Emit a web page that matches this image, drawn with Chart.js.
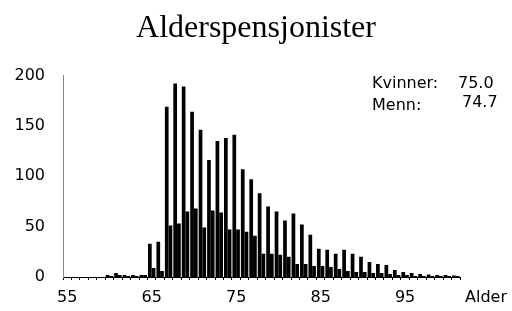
<!DOCTYPE html>
<html>
<head>
<meta charset="utf-8">
<script src="https://cdn.jsdelivr.net/npm/chart.js@4/dist/chart.umd.min.js"></script>
<style>
  html, body { margin: 0; padding: 0; background: #fff; }
  #wrap { width: 512px; height: 311px; }
</style>
</head>
<body>
<div id="wrap"><canvas id="chart"></canvas></div>
<script>
// ages 55 .. 101
const ages = [];
for (let a = 55; a <= 101; a++) ages.push(a);

const tickAges = [55, 65, 75, 85, 95];

// tall bar in each pair
const kvinner = [
    0, 0, 0, 0, 0,            // 55-59
    2, 4, 2, 2, 2,            // 60-64
    33, 35, 169, 192, 189,    // 65-69
    164, 146, 116, 135, 138,  // 70-74
    141, 107, 97, 83, 70,     // 75-79
    65, 56, 63, 52, 42,       // 80-84
    28, 27, 23, 27, 23,       // 85-89
    20, 15, 13, 12, 7,        // 90-94
    5, 4, 3, 2.5, 2,          // 95-99
    2, 1.5                    // 100-101
];

// short bar in each pair
const menn = [
    0, 0, 0, 0, 0,
    1, 2, 1, 1, 2,
    9, 6, 51, 53, 65,
    68, 49, 66, 64, 47,
    47, 45, 41, 23, 23,
    22, 20, 13, 13, 11,
    11, 10, 8, 6, 5,
    5, 4, 4, 3, 2,
    2, 1, 1, 1, 1,
    1, 1
];

const avgLabels = ["Kvinner:", "Menn:"];
const avgValues = ["75.0", "74.7"];

const sans = "'DejaVu Sans', sans-serif";

const textPlugin = {
    id: "extraText",
    afterDraw(chart) {
        const ctx = chart.ctx;
        ctx.save();
        ctx.fillStyle = "#000";
        ctx.font = "16px " + sans;
        ctx.textAlign = "left";
        ctx.textBaseline = "alphabetic";
        ctx.fillText(avgLabels[0], 372, 88);
        ctx.fillText(avgValues[0], 458, 88);
        ctx.fillText(avgLabels[1], 372, 110);
        ctx.fillText(avgValues[1], 462, 107);
        // axis name
        ctx.textBaseline = "middle";
        ctx.fillText("Alder", 465, 298);
        ctx.restore();
    }
};

new Chart(document.getElementById("chart"), {
    type: "bar",
    data: {
        labels: ages,
        datasets: [{
            label: "Kvinner",
            data: kvinner,
            backgroundColor: "#000",
            categoryPercentage: 0.88,
            barPercentage: 1.0
        }, {
            label: "Menn",
            data: menn,
            backgroundColor: "#000",
            categoryPercentage: 0.88,
            barPercentage: 1.0
        }]
    },
    options: {
        responsive: true,
        maintainAspectRatio: false,
        animation: false,
        layout: { padding: 0 },
        plugins: {
            legend: { display: false },
            tooltip: { enabled: false },
            title: {
                display: true,
                text: "Alderspensjonister",
                color: "#000",
                font: { family: "'Liberation Serif', serif", size: 32, weight: "normal" },
                padding: { top: 9, bottom: 28 }
            }
        },
        scales: {
            x: {
                grid: {
                    display: true,
                    drawOnChartArea: false,
                    drawTicks: true,
                    tickLength: 3,
                    color: "#000"
                },
                border: { display: true, color: "#000", width: 1 },
                ticks: {
                    autoSkip: false,
                    maxRotation: 0,
                    padding: 8,
                    color: "#000",
                    font: { family: sans, size: 16 },
                    callback: function (val, i) {
                        const a = ages[i];
                        return tickAges.includes(a) ? String(a) : "";
                    }
                },
                afterFit: function (scale) { scale.height = 34; }
            },
            y: {
                min: 0,
                max: 200,
                grid: { display: false, drawTicks: false },
                border: { display: true, color: "#888", width: 1 },
                ticks: {
                    stepSize: 50,
                    padding: 18,
                    color: "#000",
                    font: { family: sans, size: 16 }
                },
                afterFit: function (scale) { scale.width = 63; }
            },
            // empty right-hand space (room for "Alder" and the averages)
            yr: {
                position: "right",
                display: true,
                grid: { display: false, drawTicks: false },
                border: { display: false },
                ticks: { display: false },
                afterFit: function (scale) { scale.width = 52; }
            }
        }
    },
    plugins: [textPlugin]
});
</script>
</body>
</html>
